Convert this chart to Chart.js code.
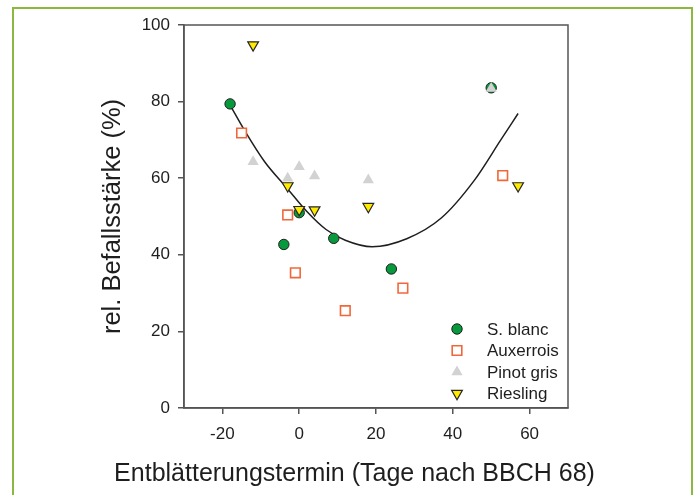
<!DOCTYPE html>
<html>
<head>
<meta charset="utf-8">
<script src="https://cdn.jsdelivr.net/npm/chart.js@4/dist/chart.umd.min.js"></script>
<style>
  html, body { margin: 0; padding: 0; background: #fff; overflow: hidden; }
  #wrap { position: relative; width: 697px; height: 495px; }
  #frame {
    position: absolute; left: 12px; top: 7px; width: 677px; height: 520px;
    border: 2px solid #8cb842; pointer-events: none;
  }
</style>
</head>
<body>
<div id="wrap">
  <canvas id="chart" width="697" height="495"></canvas>
  <div id="frame"></div>
</div>
<script>
const xTicks = [-20, 0, 20, 40, 60]
const yTicks = [0, 20, 40, 60, 80, 100]
const seriesNames = ['S. blanc', 'Auxerrois', 'Pinot gris', 'Riesling']

const sblancX = [-18, -4, 0, 9, 24, 50]
const sblancY = [79.4, 42.7, 51.0, 44.3, 36.3, 83.6]
const auxerroisX = [-15, -3, -1, 12, 27, 53]
const auxerroisY = [71.8, 50.4, 35.3, 25.4, 31.3, 60.7]
const pinotX = [-12, -3, 0, 4, 18, 50]
const pinotY = [64.3, 60.0, 63.0, 60.6, 59.5, 83.4]
const rieslingX = [-12, -3, 0, 4, 18, 57]
const rieslingY = [94.8, 58.0, 51.8, 51.7, 52.6, 58.0]

// fitted curve
const fitX = [-18, -14, -9, -3, 2, 7, 12, 19, 28, 37, 45.5, 52.5, 57]
const fitY = [79.1, 72.1, 64.3, 57.2, 51.3, 46.6, 43.8, 42.1, 44.2, 49.6, 59.3, 70.0, 76.9]

const pts = (xs, ys) => xs.map((x, i) => ({ x: x, y: ys[i] }))

const FONT = '"Liberation Sans", Arial, sans-serif'

const markers = [
  { pointStyle: 'circle', radius: 5.2, rotation: 0, backgroundColor: '#079a3c', borderColor: '#1e1e1e', borderWidth: 1 },
  { pointStyle: 'rect', radius: 6.8, rotation: 0, backgroundColor: '#ffffff', borderColor: '#f0683a', borderWidth: 1.6 },
  { pointStyle: 'triangle', radius: 6.5, rotation: 0, backgroundColor: '#d2d2d2', borderColor: '#d2d2d2', borderWidth: 0 },
  { pointStyle: 'triangle', radius: 6.2, rotation: 180, backgroundColor: '#ffea00', borderColor: '#262626', borderWidth: 1.2 }
]

const seriesData = [pts(sblancX, sblancY), pts(auxerroisX, auxerroisY), pts(pinotX, pinotY), pts(rieslingX, rieslingY)]

const datasets = seriesData.map((d, i) => ({
  label: seriesNames[i],
  data: d,
  order: 4 - i,
  showLine: false,
  pointStyle: markers[i].pointStyle,
  pointRadius: markers[i].radius,
  pointRotation: markers[i].rotation,
  pointBackgroundColor: markers[i].backgroundColor,
  pointBorderColor: markers[i].borderColor,
  pointBorderWidth: markers[i].borderWidth,
  pointHoverRadius: markers[i].radius
}))

datasets.push({
  label: 'fit',
  data: pts(fitX, fitY),
  order: 10,
  showLine: true,
  borderColor: '#1e1e1e',
  borderWidth: 1.5,
  pointRadius: 0,
  cubicInterpolationMode: 'monotone'
})

const boxPlugin = {
  id: 'box',
  afterDatasetsDraw(chart) {
    const a = chart.chartArea
    const ctx = chart.ctx
    ctx.save()
    ctx.strokeStyle = '#555'
    ctx.lineWidth = 1.5
    ctx.strokeRect(a.left, a.top, a.right - a.left, a.bottom - a.top)
    ctx.restore()
  }
}

const legendPlugin = {
  id: 'innerLegend',
  afterDraw(chart) {
    const ctx = chart.ctx
    const rowsY = [329, 350.5, 372, 393.5]
    ctx.save()
    ctx.font = '17px ' + FONT
    ctx.fillStyle = '#1e1e1e'
    ctx.textBaseline = 'middle'
    ctx.textAlign = 'left'
    seriesNames.forEach((name, i) => {
      const m = markers[i]
      ctx.save()
      ctx.fillStyle = m.backgroundColor
      ctx.strokeStyle = m.borderColor
      ctx.lineWidth = m.borderWidth
      Chart.helpers.drawPoint(ctx, {
        pointStyle: m.pointStyle, radius: m.radius, rotation: m.rotation, borderWidth: m.borderWidth
      }, 457, rowsY[i])
      ctx.restore()
      ctx.fillText(name, 487, rowsY[i] + 1)
    })
    ctx.restore()
  }
}

const chart = new Chart(document.getElementById('chart').getContext('2d'), {
  type: 'scatter',
  data: { datasets: datasets },
  options: {
    responsive: false,
    animation: false,
    layout: { padding: { left: 12, top: 25, right: 0, bottom: 0 } },
    plugins: {
      legend: { display: false },
      tooltip: { enabled: false },
      title: {
        display: true,
        position: 'bottom',
        text: 'Entblätterungstermin (Tage nach BBCH 68)',
        color: '#1e1e1e',
        padding: { top: 0, bottom: 6 },
        font: { size: 25, weight: 'normal', family: FONT }
      }
    },
    scales: {
      x: {
        type: 'linear',
        min: -30,
        max: 70,
        afterBuildTicks: s => { s.ticks = xTicks.map(v => ({ value: v })) },
        afterFit: s => { s.height = 51 },
        grid: { drawOnChartArea: false, tickLength: 6, color: '#555', lineWidth: 1.5 },
        border: { display: true, color: '#555', width: 1.5 },
        ticks: { color: '#1e1e1e', padding: 10, font: { size: 17, family: FONT } }
      },
      y: {
        type: 'linear',
        min: 0,
        max: 100,
        afterBuildTicks: s => { s.ticks = yTicks.map(v => ({ value: v })) },
        afterFit: s => { s.width = 172 },
        grid: { drawOnChartArea: false, tickLength: 6, color: '#555', lineWidth: 1.5 },
        border: { display: true, color: '#555', width: 1.5 },
        ticks: { color: '#1e1e1e', padding: 8, font: { size: 17, family: FONT } },
        title: {
          display: true,
          text: 'rel. Befallsstärke (%)',
          color: '#1e1e1e',
          padding: { top: 86, bottom: 0 },
          font: { size: 25.5, family: FONT }
        }
      },
      spacer: {
        type: 'linear',
        position: 'right',
        min: 0,
        max: 1,
        afterFit: s => { s.width = 129 },
        grid: { display: false },
        border: { display: false },
        ticks: { display: false }
      }
    }
  },
  plugins: [boxPlugin, legendPlugin]
})
</script>
</body>
</html>
